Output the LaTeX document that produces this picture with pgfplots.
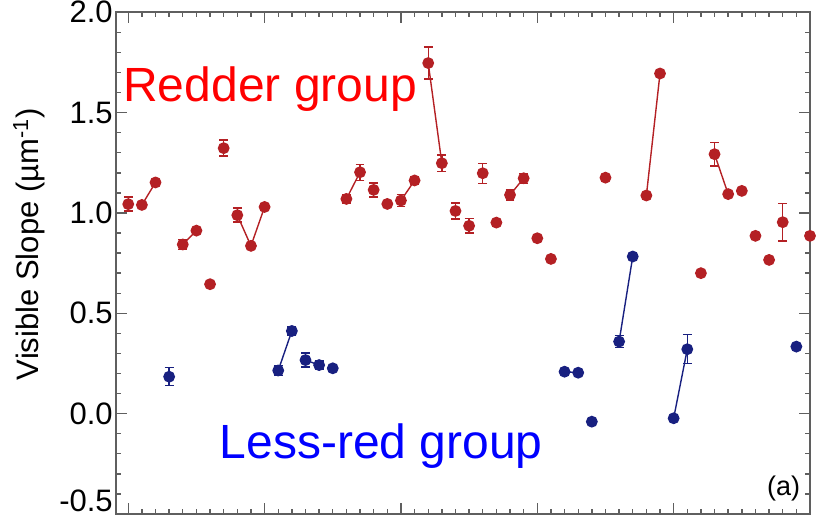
\documentclass[border=0pt]{standalone}
\usepackage{fontspec}
\setmainfont{Liberation Sans}
\usepackage{pgfplots}
\pgfplotsset{compat=1.18}

\definecolor{redpt}{RGB}{180,32,36}
\definecolor{bluept}{RGB}{24,32,128}
\definecolor{axgray}{RGB}{95,95,95}

\pgfplotsset{
  ptbase/.style={mark=*, mark size=2.6pt, line width=0.7pt,
    mark options={solid},
    /pgfplots/error bars/y dir=both,
    /pgfplots/error bars/y explicit,
    /pgfplots/error bars/error bar style={line width=0.7pt},
    /pgfplots/error bars/error mark options={rotate=90, mark size=2.2pt, line width=0.7pt}},
  redl/.style={ptbase, color=redpt, mark options={fill=redpt, draw=redpt}},
  bluel/.style={ptbase, color=bluept, mark options={fill=bluept, draw=bluept}},
  redp/.style={only marks, redl},
  bluep/.style={only marks, bluel},
}

\begin{document}
\begin{tikzpicture}
\begin{axis}[
  scale only axis, width=347.15pt, height=250.85pt,
  xmin=-0.92, xmax=50, ymin=-0.5, ymax=2.0,
  xtick={0,10,...,50}, xticklabels={}, minor x tick num=9,
  ytick={-0.5,0,0.5,1,1.5,2},
  yticklabels={\raisebox{6.5pt}[\height][\depth]{-0.5},0.0,0.5,1.0,1.5,2.0},
  minor y tick num=4,
  tick align=inside, major tick length=5.5pt, minor tick length=2.5pt,
  axis line style={draw=axgray, line width=0.9pt},
  every tick/.style={draw=axgray, line width=0.7pt},
  yticklabel style={font=\fontsize{15.5}{18}\selectfont, inner sep=0pt, xshift=-1.3pt},
  ylabel={Visible Slope (µm\textsuperscript{-1})},
  every axis y label/.style={at={(axis description cs:-0.1249,0.538)}, rotate=90, anchor=center, font=\fontsize{15.5}{18}\selectfont},
  clip=false,
]
% red isolated points
\addplot[redp] coordinates {
 (0,1.044) +- (0,0.035)
 (6,0.645) +- (0,0)
 (7,1.323) +- (0,0.04)
 (18,1.115) +- (0,0.035)
 (19,1.045) +- (0,0)
 (24,1.010) +- (0,0.04)
 (25,0.936) +- (0,0.035)
 (26,1.198) +- (0,0.05)
 (27,0.952) +- (0,0)
 (30,0.874) +- (0,0)
 (31,0.771) +- (0,0)
 (35,1.176) +- (0,0)
 (42,0.700) +- (0,0)
 (45,1.110) +- (0,0)
 (46,0.886) +- (0,0)
 (47,0.766) +- (0,0)
 (48,0.954) +- (0,0.094)
 (50,0.886) +- (0,0)
};
% red connected groups
\addplot[redl] coordinates {(1,1.040) +- (0,0.012) (2,1.152) +- (0,0.012)};
\addplot[redl] coordinates {(4,0.843) +- (0,0.025) (5,0.912) +- (0,0.01)};
\addplot[redl] coordinates {(8,0.989) +- (0,0.035) (9,0.836) +- (0,0.01) (10,1.030) +- (0,0.01)};
\addplot[redl] coordinates {(16,1.070) +- (0,0.02) (17,1.203) +- (0,0.04)};
\addplot[redl] coordinates {(20,1.062) +- (0,0.03) (21,1.162) +- (0,0.02)};
\addplot[redl] coordinates {(22,1.747) +- (0,0.08) (23,1.248) +- (0,0.04)};
\addplot[redl] coordinates {(28,1.090) +- (0,0.025) (29,1.173) +- (0,0.025)};
\addplot[redl] coordinates {(38,1.087) +- (0,0) (39,1.695) +- (0,0)};
\addplot[redl] coordinates {(43,1.293) +- (0,0.058) (44,1.094) +- (0,0)};
% blue isolated points
\addplot[bluep] coordinates {
 (3,0.184) +- (0,0.045)
 (15,0.226) +- (0,0)
 (34,-0.040) +- (0,0)
 (49,0.334) +- (0,0)
};
% blue connected groups
\addplot[bluel] coordinates {(11,0.215) +- (0,0.025) (12,0.412) +- (0,0.02)};
\addplot[bluel] coordinates {(13,0.267) +- (0,0.035) (14,0.242) +- (0,0.02)};
\addplot[bluel] coordinates {(32,0.209) +- (0,0) (33,0.204) +- (0,0)};
\addplot[bluel] coordinates {(36,0.359) +- (0,0.03) (37,0.783) +- (0,0)};
\addplot[bluel] coordinates {(40,-0.023) +- (0,0) (41,0.321) +- (0,0.072)};

\node[anchor=base west, inner sep=0pt, text=red, font=\fontsize{24}{28}\selectfont] at (rel axis cs:0.0104,0.822) {Redder group};
\node[anchor=base west, inner sep=0pt, text=blue, font=\fontsize{24}{28}\selectfont] at (rel axis cs:0.1495,0.111) {Less-red group};
\node[anchor=center, inner sep=0pt, font=\fontsize{13.5}{16}\selectfont] at (rel axis cs:0.962,0.05) {(a)};
\coordinate (sw) at (rel axis cs:0,0);
\coordinate (ne) at (rel axis cs:1,1);
\end{axis}
\pgfresetboundingbox
\path[use as bounding box] ([shift={(-57.85pt,-1.5pt)}]sw) rectangle ([shift={(4pt,6.15pt)}]ne);
\end{tikzpicture}
\end{document}
